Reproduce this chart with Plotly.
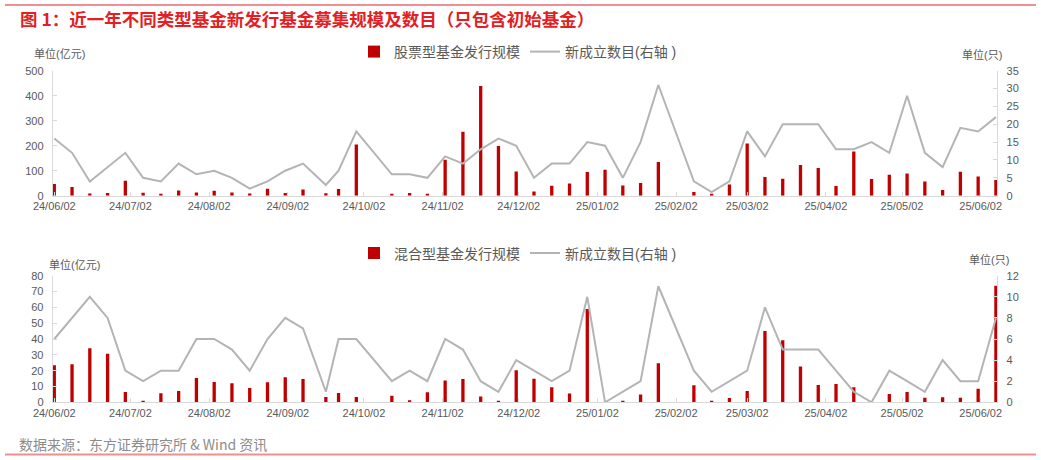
import plotly.graph_objects as go

# ---------------- data ----------------
dates = [
    "2024-06-02", "2024-06-09", "2024-06-16", "2024-06-23", "2024-06-30",
    "2024-07-07", "2024-07-14", "2024-07-21", "2024-07-28", "2024-08-04",
    "2024-08-11", "2024-08-18", "2024-08-25", "2024-09-01", "2024-09-08",
    "2024-09-17", "2024-09-22", "2024-09-29", "2024-10-13", "2024-10-20",
    "2024-10-27", "2024-11-03", "2024-11-10", "2024-11-17", "2024-11-24",
    "2024-12-01", "2024-12-08", "2024-12-15", "2024-12-22", "2024-12-29",
    "2025-01-05", "2025-01-12", "2025-01-19", "2025-01-26", "2025-02-09",
    "2025-02-16", "2025-02-23", "2025-03-02", "2025-03-09", "2025-03-16",
    "2025-03-23", "2025-03-30", "2025-04-06", "2025-04-13", "2025-04-20",
    "2025-04-27", "2025-05-04", "2025-05-11", "2025-05-18", "2025-05-25",
    "2025-06-01", "2025-06-08",
]

stock_scale = [
    47, 35, 9, 11, 60, 12, 8, 21, 13, 20, 13, 9, 28, 11, 25, 10, 27,
    205, 7, 11, 7, 144, 256, 439, 199, 97, 17, 40, 49, 95, 104, 41, 51, 135,
    15, 5, 45, 209, 75, 68, 123, 111, 39, 177, 67, 84, 89, 57, 23, 96, 77, 63,
]
stock_count = [
    16, 12, 4, 8, 12, 5, 4, 9, 6, 7, 5, 2, 4, 7, 9, 3, 7,
    18, 6, 6, 5, 11, 9, 13, 16, 14, 5, 9, 9, 15, 14, 5, 15, 31,
    4, 1, 4, 18, 11, 20, 20, 20, 13, 13, 15, 12, 28, 12, 8, 19, 18, 22,
]
mixed_scale = [
    23.4, 24, 34.1, 30.7, 6.5, 1, 5.7, 7.2, 15.4, 12.8, 12, 9, 12.6, 15.8, 14.7, 3.4, 5.9,
    3.4, 4.2, 1.3, 6.3, 13.7, 14.7, 3.6, 0.8, 20.2, 14.9, 9.5, 5.5, 58.9, 0, 0.8, 5, 24.6,
    10.7, 0.8, 2.7, 7.2, 45, 39.2, 22.7, 10.9, 11.6, 9.5, 0, 5.3, 6.5, 2.9, 3.2, 2.9, 8.6, 73.7,
]
mixed_count = [
    6, 8, 10, 8, 3, 2, 3, 3, 6, 6, 5, 3, 6, 8, 7, 1, 6,
    6, 2, 3, 2, 6, 5, 2, 1, 4, 3, 2, 3, 10, 0, 1, 2, 11,
    3, 1, 2, 3, 9, 5, 5, 5, 3, 1, 0, 3, 2, 1, 4, 2, 2, 8,
]

tick_dates = [
    "2024-06-02", "2024-07-02", "2024-08-02", "2024-09-02", "2024-10-02",
    "2024-11-02", "2024-12-02", "2025-01-02", "2025-02-02", "2025-03-02",
    "2025-04-02", "2025-05-02", "2025-06-02",
]
tick_labels = [
    "24/06/02", "24/07/02", "24/08/02", "24/09/02", "24/10/02",
    "24/11/02", "24/12/02", "25/01/02", "25/02/02", "25/03/02",
    "25/04/02", "25/05/02", "25/06/02",
]

# ---------------- styling ----------------
W, H = 1041, 460
FONT = "Liberation Sans, Arial, Noto Sans CJK SC, sans-serif"
RED_TITLE = "#E31E24"
BAR_RED = "#C00000"
LINE_GREY = "#B4B4B4"
AXIS_GREY = "#D9D9D9"
TEXT_GREY = "#595959"
BAR_WIDTH_MS = 1.3 * 86400000


def fx(p):
    return p / W


def fy(p):
    return 1 - p / H


x_range = ["2024-06-01 09:00", "2025-06-08 14:00"]
x_domain = [fx(52.7), fx(997.4)]
top_domain = [fy(195.7), fy(70.7)]
bot_domain = [fy(402.3), fy(275.7)]

fig = go.Figure()
fig.add_trace(go.Bar(x=dates, y=stock_scale, name="股票型基金发行规模",
                     marker=dict(color=BAR_RED, line=dict(width=0)),
                     width=BAR_WIDTH_MS, xaxis="x", yaxis="y", legend="legend"))
fig.add_trace(go.Scatter(x=dates, y=stock_count, name="新成立数目(右轴 )", mode="lines",
                         line=dict(color=LINE_GREY, width=2),
                         xaxis="x", yaxis="y2", legend="legend"))
fig.add_trace(go.Bar(x=dates, y=mixed_scale, name="混合型基金发行规模",
                     marker=dict(color=BAR_RED, line=dict(width=0)),
                     width=BAR_WIDTH_MS, xaxis="x2", yaxis="y3", legend="legend2"))
fig.add_trace(go.Scatter(x=dates, y=mixed_count, name="新成立数目(右轴 )", mode="lines",
                         line=dict(color=LINE_GREY, width=2),
                         xaxis="x2", yaxis="y4", legend="legend2"))

xcommon = dict(type="date", range=x_range, domain=x_domain, automargin=False,
               tickmode="array", tickvals=tick_dates, ticktext=tick_labels,
               ticks="inside", ticklen=4, tickcolor=AXIS_GREY,
               showline=True, linecolor=AXIS_GREY, linewidth=1,
               showgrid=False, zeroline=False,
               tickfont=dict(size=11, color=TEXT_GREY, family=FONT))
ycommon = dict(showline=True, linecolor=AXIS_GREY, linewidth=1, automargin=False,
               ticks="inside", ticklen=4, tickcolor=AXIS_GREY,
               showgrid=False, zeroline=False, ticklabelstandoff=6,
               tickfont=dict(size=11, color=TEXT_GREY, family=FONT))

legcommon = dict(orientation="h", xanchor="center", yanchor="middle",
                 bgcolor="rgba(0,0,0,0)", font=dict(size=14, color=TEXT_GREY, family=FONT),
                 itemwidth=30, tracegroupgap=0)

fig.update_layout(
    width=W, height=H, autosize=False,
    margin=dict(l=0, r=0, t=0, b=0, pad=0),
    paper_bgcolor="white", plot_bgcolor="white",
    font=dict(family=FONT, color=TEXT_GREY),
    barmode="overlay",
    xaxis=dict(anchor="y", **xcommon),
    xaxis2=dict(anchor="y3", **xcommon),
    yaxis=dict(domain=top_domain, anchor="x", range=[0, 500], dtick=100, **ycommon),
    yaxis2=dict(overlaying="y", side="right", anchor="x", range=[0, 35], dtick=5, **ycommon),
    yaxis3=dict(domain=bot_domain, anchor="x2", range=[0, 80], dtick=10, **ycommon),
    yaxis4=dict(overlaying="y3", side="right", anchor="x2", range=[0, 12], dtick=2, **ycommon),
    legend=dict(x=fx(518), y=fy(52), **legcommon),
    legend2=dict(x=fx(518), y=fy(253.5), **legcommon),
    showlegend=True,
)

annos = [
    dict(text="<b>图 1：近一年不同类型基金新发行基金募集规模及数目（只包含初始基金）</b>",
         x=fx(18), y=fy(18), xanchor="left", yanchor="middle",
         font=dict(size=17.5, color=RED_TITLE, family="Noto Sans CJK SC, sans-serif")),
    dict(text="单位(亿元)", x=fx(31.7), y=fy(53), xanchor="left", yanchor="middle",
         font=dict(size=11, color=TEXT_GREY, family=FONT)),
    dict(text="单位(只)", x=fx(960), y=fy(55), xanchor="left", yanchor="middle",
         font=dict(size=11, color=TEXT_GREY, family=FONT)),
    dict(text="单位(亿元)", x=fx(46.7), y=fy(264), xanchor="left", yanchor="middle",
         font=dict(size=11, color=TEXT_GREY, family=FONT)),
    dict(text="单位(只)", x=fx(967), y=fy(259), xanchor="left", yanchor="middle",
         font=dict(size=11, color=TEXT_GREY, family=FONT)),
    dict(text="数据来源：东方证券研究所 & Wind 资讯", x=fx(17), y=fy(444),
         xanchor="left", yanchor="middle",
         font=dict(size=14, color="#8C8C8C", family="Noto Sans CJK SC, sans-serif")),
]
for a in annos:
    a.update(xref="paper", yref="paper", showarrow=False)
fig.update_layout(annotations=annos)

fig.update_layout(shapes=[
    dict(type="line", xref="paper", yref="paper", x0=fx(5), x1=fx(1036), y0=fy(5), y1=fy(5),
         line=dict(color=RED_TITLE, width=1.2)),
    dict(type="line", xref="paper", yref="paper", x0=fx(5), x1=fx(1036), y0=fy(454.5), y1=fy(454.5),
         line=dict(color="#EF8F8F", width=2)),
])

fig.write_html("out.html",
               config={"displayModeBar": False},
               post_script="document.body.style.margin='0';document.body.style.overflow='hidden';")
